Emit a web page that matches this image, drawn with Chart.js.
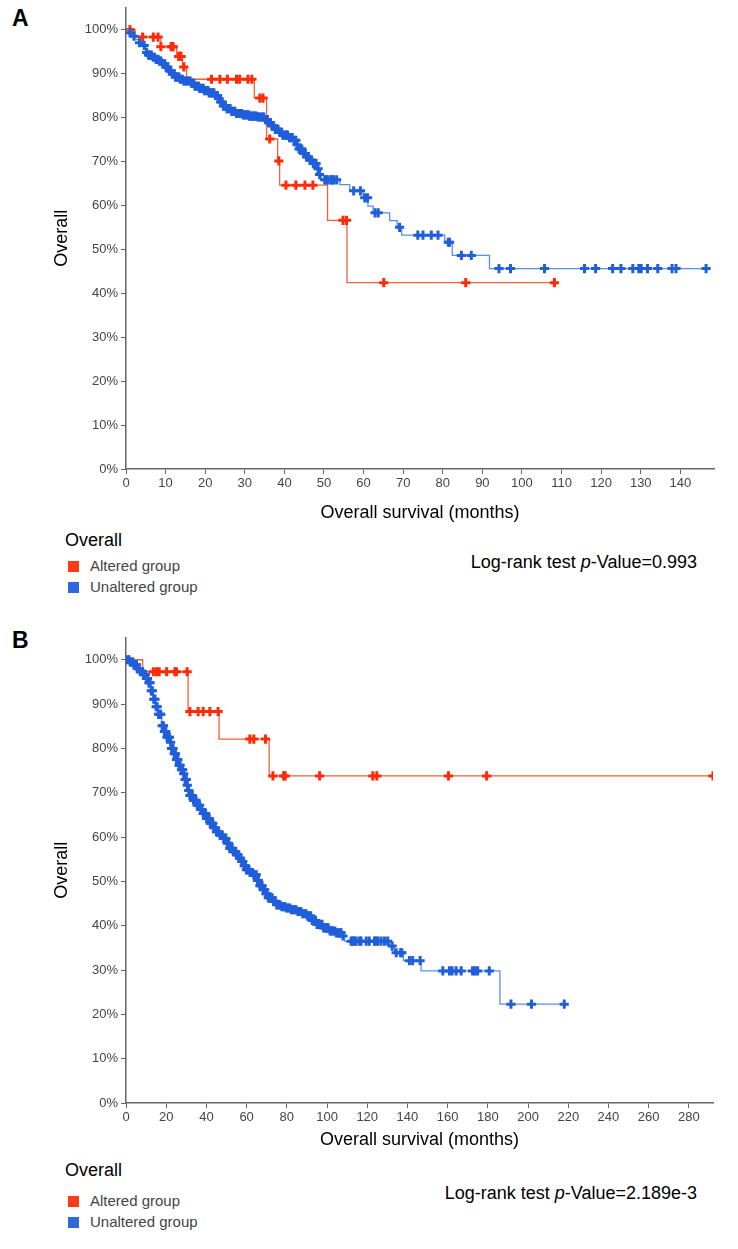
<!DOCTYPE html>
<html>
<head>
<meta charset="utf-8">
<script src="https://cdn.jsdelivr.net/npm/chart.js@4.4.1/dist/chart.umd.min.js"></script>
<style>
  html, body { margin: 0; padding: 0; background: #fff; }
  #page { position: relative; width: 738px; height: 1249px; overflow: hidden; font-family: "Liberation Sans", Arial, sans-serif; }
  .panel-label { position: absolute; left: 12px; font-weight: bold; font-size: 23px; color: #000; line-height: 1; }
  .chart-box { position: absolute; left: 0; width: 738px; height: 530px; }
  .legend-title { position: absolute; left: 65px; font-size: 18px; color: #000; line-height: 1; }
  .legend-item { position: absolute; left: 68px; font-family: "Liberation Sans Narrow", "Arial Narrow", "Liberation Sans", sans-serif; font-size: 15px; color: #444; line-height: 1; }
  .legend-item i { display: inline-block; width: 11px; height: 11px; margin-right: 11px; vertical-align: -1px; }
  .logrank { position: absolute; right: 41px; font-size: 18px; color: #000; line-height: 1; }
</style>
</head>
<body>
<div id="page">
  <div class="panel-label" style="top:7px">A</div>
  <div class="chart-box" style="top:0px"><canvas id="chartA" width="738" height="530"></canvas></div>
  <div class="legend-title" style="top:531px">Overall</div>
  <div class="legend-item" style="top:558px"><i style="background:#ff3a14"></i>Altered group</div>
  <div class="legend-item" style="top:579px"><i style="background:#2f67dc"></i>Unaltered group</div>
  <div class="logrank" style="top:553px">Log-rank test <i>p</i>-Value=0.993</div>

  <div class="panel-label" style="top:629px">B</div>
  <div class="chart-box" style="top:630px"><canvas id="chartB" width="738" height="530"></canvas></div>
  <div class="legend-title" style="top:1161px">Overall</div>
  <div class="legend-item" style="top:1193px"><i style="background:#ff3a14"></i>Altered group</div>
  <div class="legend-item" style="top:1214px"><i style="background:#2f67dc"></i>Unaltered group</div>
  <div class="logrank" style="top:1184px">Log-rank test <i>p</i>-Value=2.189e-3</div>
</div>

<script>
// ---- data: Kaplan-Meier steps [months, survival %] and censor times (months) ----

const yTicks = [0, 10, 20, 30, 40, 50, 60, 70, 80, 90, 100];
const xTicksA = [0, 10, 20, 30, 40, 50, 60, 70, 80, 90, 100, 110, 120, 130, 140];
const xTicksB = [0, 20, 40, 60, 80, 100, 120, 140, 160, 180, 200, 220, 240, 260, 280];

// Panel A
const aAlteredSteps = [
  [0, 100], [2.3, 98.3], [8.8, 96.1], [12.8, 93.9], [14.3, 91.5], [15.3, 88.7],
  [32.4, 84.4], [35.5, 75.1], [38.3, 70.1], [38.8, 64.6], [50.9, 56.6], [55.8, 42.4]
];
const aAlteredCensor = [
  1, 4.2, 6.9, 8.1, 8.8, 11.4, 11.7, 11.9, 13.3, 13.6, 13.9, 14.6, 21.6, 23.7, 25.6, 27.9,
  28.7, 30.8, 31.8, 33.8, 34.6, 36.3, 38.6, 40.4, 42.9, 45.2, 47.2, 54.8, 55.7, 65.1, 85.8, 108.2
];
const aUnalteredSteps = [
  [0, 100], [0.8, 99.3], [1.5, 98.5], [2.2, 97.7], [3.2, 97.0], [4.0, 96.4], [5.0, 94.8],
  [5.6, 94.2], [6.5, 93.7], [7.5, 93.2], [8.5, 92.8], [9.3, 92.2], [10.0, 91.5], [10.8, 90.6],
  [11.6, 89.9], [12.5, 89.2], [13.5, 88.7], [14.5, 88.3], [16.5, 87.8], [17.2, 87.1],
  [18.5, 86.6], [19.8, 86.1], [21.0, 85.6], [22.3, 85.0], [23.2, 84.3], [23.9, 83.5],
  [24.6, 82.6], [25.5, 82.0], [26.5, 81.4], [27.8, 80.9], [29.5, 80.6], [31.0, 80.3],
  [33.0, 80.1], [35.2, 79.5], [35.9, 78.8], [36.8, 78.1], [37.6, 77.3], [38.5, 76.6],
  [39.6, 76.0], [41.0, 75.4], [42.3, 74.8], [43.0, 73.8], [43.7, 72.8], [44.5, 71.8],
  [45.4, 71.0], [46.3, 70.3], [47.3, 69.5], [48.3, 68.3], [48.8, 67.0], [49.3, 65.8],
  [54.0, 64.7], [56.5, 63.3], [59.9, 61.7], [61.1, 59.8], [62.4, 58.3], [66.6, 56.5],
  [68.5, 55.0], [69.6, 53.2], [80.5, 51.6], [82.4, 48.6], [91.8, 45.6]
];
const aUnalteredCensor = [
  1.0, 2.0, 3.4, 4.6, 5.2, 5.7, 6.0, 6.4, 6.9, 7.2, 7.6, 8.1, 8.5, 8.8, 9.3, 9.8, 10.1, 10.5,
  11.0, 11.3, 11.7, 12.2, 12.5, 12.9, 13.4, 13.7, 14.2, 14.6, 14.9, 15.4, 15.9, 16.2, 16.6,
  17.1, 17.4, 17.9, 18.3, 18.6, 19.1, 19.5, 19.8, 20.3, 20.7, 21.0, 21.5, 21.9, 22.2, 22.7,
  23.1, 23.4, 23.9, 24.3, 24.6, 25.1, 25.5, 25.8, 26.3, 26.7, 27.0, 27.5, 27.9, 28.3, 28.7,
  29.2, 29.6, 30.0, 30.5, 30.9, 31.2, 31.7, 32.1, 32.4, 32.9, 33.3, 33.6, 34.1, 34.5, 34.8,
  35.3, 35.7, 36.0, 36.5, 36.9, 37.2, 37.7, 38.1, 38.4, 38.9, 39.3, 39.6, 40.1, 40.5, 40.8,
  41.3, 41.7, 42.0, 42.5, 42.9, 43.2, 43.7, 44.1, 44.4, 44.9, 45.3, 45.6, 46.1, 46.5, 46.8,
  47.3, 47.7, 48.0, 48.5, 48.9, 50.2, 50.6, 50.9, 51.7, 52.0, 52.4, 53.2, 57.5, 59.2, 60.3,
  61.0, 62.9, 63.7, 69.1, 73.7, 75.0, 77.1, 78.8, 81.4, 81.7, 84.7, 87.2, 94.2, 97.1, 105.7,
  115.8, 118.6, 122.9, 125.0, 128.0, 129.5, 130.1, 131.7, 134.3, 137.9, 138.9, 146.5
];

// Panel B
const bAlteredSteps = [
  [0, 100], [8.3, 97.3], [30.9, 88.3], [46.3, 82.1], [71.2, 73.8]
];
const bAlteredCensor = [
  13.6, 15.2, 16.5, 20.2, 24.3, 25.1, 30.4, 31.8, 35.9, 38.4, 41.7, 45.8, 61.6, 63.6,
  69.4, 73.1, 78.4, 79.2, 96.3, 122.8, 124.8, 160.4, 179.4, 292
];
const bUnalteredSteps = [
  [0, 100], [2, 99.5], [3.6, 98.9], [5.5, 98.0], [7, 97.3], [8.6, 96.7], [10, 95.8],
  [11.1, 94.8], [12.3, 93.0], [13.6, 91.1], [14.8, 89.4], [16.1, 87.7], [17.7, 85.1],
  [19.0, 83.8], [20.2, 82.5], [21.8, 81.4], [22.6, 80.0], [23.5, 78.8], [24.8, 77.5],
  [26, 76.2], [27.3, 75.2], [28.5, 74.3], [29.3, 73.0], [30.1, 71.7], [31.0, 70.5],
  [31.8, 69.4], [33.5, 68.3], [35.1, 67.2], [36.8, 66.2], [38.4, 65.3], [40.0, 64.2],
  [41.7, 63.1], [43.3, 62.1], [45, 61.2], [46.7, 60.4], [48.3, 59.7], [50, 58.6],
  [51.6, 57.5], [53.3, 56.7], [55, 56.0], [56.3, 55.2], [57.5, 54.5], [58.7, 53.5],
  [59.9, 52.6], [61.6, 52.0], [63.3, 51.5], [64.9, 50.2], [66.5, 49.0], [68.2, 48.1],
  [69.4, 47.2], [70.7, 46.3], [72.8, 45.5], [74.8, 44.7], [77.3, 44.3], [79.8, 44.0],
  [82.2, 43.6], [84.7, 43.2], [87.2, 42.7], [89.7, 42.2], [92.2, 41.2], [94.6, 40.3],
  [98.0, 39.5], [101.3, 38.8], [104.6, 38.4], [107.1, 37.7], [108.7, 36.5], [131.1, 35.4],
  [133.5, 33.9], [138.0, 32.1], [146.8, 29.8], [186.0, 22.3]
];
const bUnalteredCensor = [
  0.8, 1.5, 2.1, 2.8, 3.4, 3.9, 4.6, 5.2, 5.9, 6.4, 7.1, 7.7, 8.3, 8.9, 9.6, 10.2, 10.7, 11.4,
  12.0, 12.6, 13.1, 13.8, 14.4, 15.0, 15.5, 16.2, 16.8, 17.3, 18.0, 18.6, 19.1, 19.8, 20.4,
  20.9, 21.6, 22.2, 22.7, 23.4, 24.0, 24.6, 25.1, 25.8, 26.4, 26.9, 27.6, 28.2, 28.7, 29.4,
  30.0, 30.5, 31.2, 31.8, 32.4, 33.0, 33.6, 34.1, 34.8, 35.4, 35.9, 36.6, 37.2, 37.7, 38.4,
  39.0, 39.6, 40.1, 40.8, 41.4, 41.9, 42.6, 43.2, 43.7, 44.4, 45.0, 45.6, 46.1, 46.8, 47.4,
  47.9, 48.6, 49.2, 49.7, 50.4, 51.0, 51.6, 52.1, 52.8, 53.4, 53.9, 54.6, 55.2, 55.7, 56.4,
  57.0, 57.6, 58.1, 58.8, 59.4, 59.9, 60.6, 61.2, 61.7, 62.4, 63.0, 63.6, 64.1, 64.8, 65.4,
  65.9, 66.6, 67.2, 67.7, 68.4, 69.0, 69.6, 70.1, 70.8, 71.4, 72.0, 72.7, 73.5, 74.2, 75.0,
  75.9, 76.6, 77.5, 78.3, 79.0, 79.9, 80.6, 81.5, 82.3, 83.0, 83.9, 84.6, 85.5, 86.3, 87.0,
  87.9, 88.6, 89.5, 90.3, 91.0, 91.9, 92.6, 93.5, 94.3, 95.0, 95.9, 96.6, 97.5, 98.3, 99.0,
  99.9, 100.6, 101.5, 102.3, 103.0, 103.9, 104.6, 105.5, 106.3, 107.0, 107.9,
  112, 112.8, 113.4, 114.5, 116.2, 116.9, 119.5, 121.0, 123.6, 124.4, 125.3, 126.9, 128.6,
  130.2, 132.4, 134.4, 136.6, 137.2, 141, 142.6, 146.3, 157.6, 160.9, 162.2, 164.2, 166.7,
  172.4, 173.6, 174.9, 180.7, 191.5, 201.7, 218
];

const colors = {
  altered: { line: '#f0603c', mark: '#ff2a08' },
  unaltered: { line: '#5a8ee6', mark: '#1f5fdb' },
};

const TICK_FONT = { family: '"Liberation Sans Narrow", "Arial Narrow", "Liberation Sans", sans-serif', size: 13 };
const TITLE_FONT = { family: '"Liberation Sans", Arial, sans-serif', size: 18 };

// survival value of a step curve at time t
function survivalAt(steps, t) {
  let s = steps[0][1];
  for (const [time, val] of steps) {
    if (time <= t) s = val;
  }
  return s;
}

function stepLine(steps, censor) {
  const pts = steps.map(([x, y]) => ({ x, y }));
  const last = censor[censor.length - 1];
  if (last > steps[steps.length - 1][0]) pts.push({ x: last, y: steps[steps.length - 1][1] });
  return pts;
}

function censorMarks(steps, censor) {
  return censor.map(t => ({ x: t, y: survivalAt(steps, t) }));
}

function lineSet(data, color) {
  return { type: 'line', data, stepped: true, borderColor: color, borderWidth: 1.3, pointRadius: 0, fill: false };
}

function markSet(data, color) {
  return {
    type: 'line', data, showLine: false, pointStyle: 'cross', pointRadius: 4.6,
    pointBorderWidth: 3, pointBorderColor: color, pointBackgroundColor: color,
    borderColor: color, backgroundColor: color,
  };
}

function makeChart(id, cfg) {
  const axisColor = '#666';
  return new Chart(document.getElementById(id), {
    type: 'line',
    data: {
      datasets: [
        markSet(censorMarks(cfg.unaltered, cfg.unalteredCensor), colors.unaltered.mark),
        lineSet(stepLine(cfg.unaltered, cfg.unalteredCensor), colors.unaltered.line),
        markSet(censorMarks(cfg.altered, cfg.alteredCensor), colors.altered.mark),
        lineSet(stepLine(cfg.altered, cfg.alteredCensor), colors.altered.line),
      ],
    },
    options: {
      responsive: false,
      animation: false,
      layout: { padding: { top: cfg.padTop, right: cfg.padRight, bottom: 0, left: 0 } },
      plugins: { legend: { display: false }, tooltip: { enabled: false } },
      scales: {
        x: {
          type: 'linear', min: 0, max: cfg.xMax,
          afterBuildTicks: s => { s.ticks = cfg.xTicks.map(v => ({ value: v })); },
          afterFit: s => { s.height = cfg.xAxisHeight; s.paddingLeft = 0; s.paddingRight = 0; },
          ticks: { autoSkip: false, maxRotation: 0, color: '#444', font: TICK_FONT, padding: 2 },
          grid: { drawOnChartArea: false, drawTicks: true, tickLength: 5, color: axisColor },
          border: { color: axisColor, width: 1.5 },
          title: { display: true, text: 'Overall survival (months)', color: '#000', font: TITLE_FONT, padding: { top: 0, bottom: cfg.xTitlePad } },
        },
        y: {
          type: 'linear', min: 0, max: 105,
          afterBuildTicks: s => { s.ticks = yTicks.map(v => ({ value: v })); },
          afterFit: s => { s.width = 126; s.paddingTop = 0; s.paddingBottom = 0; },
          ticks: { color: '#444', font: TICK_FONT, padding: 3, callback: v => v + '%' },
          grid: { drawOnChartArea: false, drawTicks: true, tickLength: 5, color: axisColor },
          border: { color: axisColor, width: 1.5 },
          title: { display: true, text: 'Overall', color: '#000', font: TITLE_FONT, padding: { top: 51, bottom: 0 } },
        },
      },
    },
  });
}

makeChart('chartA', {
  altered: aAlteredSteps, alteredCensor: aAlteredCensor,
  unaltered: aUnalteredSteps, unalteredCensor: aUnalteredCensor,
  xTicks: xTicksA, xMax: 148.5, padTop: 3, padRight: 24, xAxisHeight: 61, xTitlePad: 6,
});

makeChart('chartB', {
  altered: bAlteredSteps, alteredCensor: bAlteredCensor,
  unaltered: bUnalteredSteps, unalteredCensor: bUnalteredCensor,
  xTicks: xTicksB, xMax: 292, padTop: 5, padRight: 25, xAxisHeight: 57, xTitlePad: 9,
});
</script>
</body>
</html>
